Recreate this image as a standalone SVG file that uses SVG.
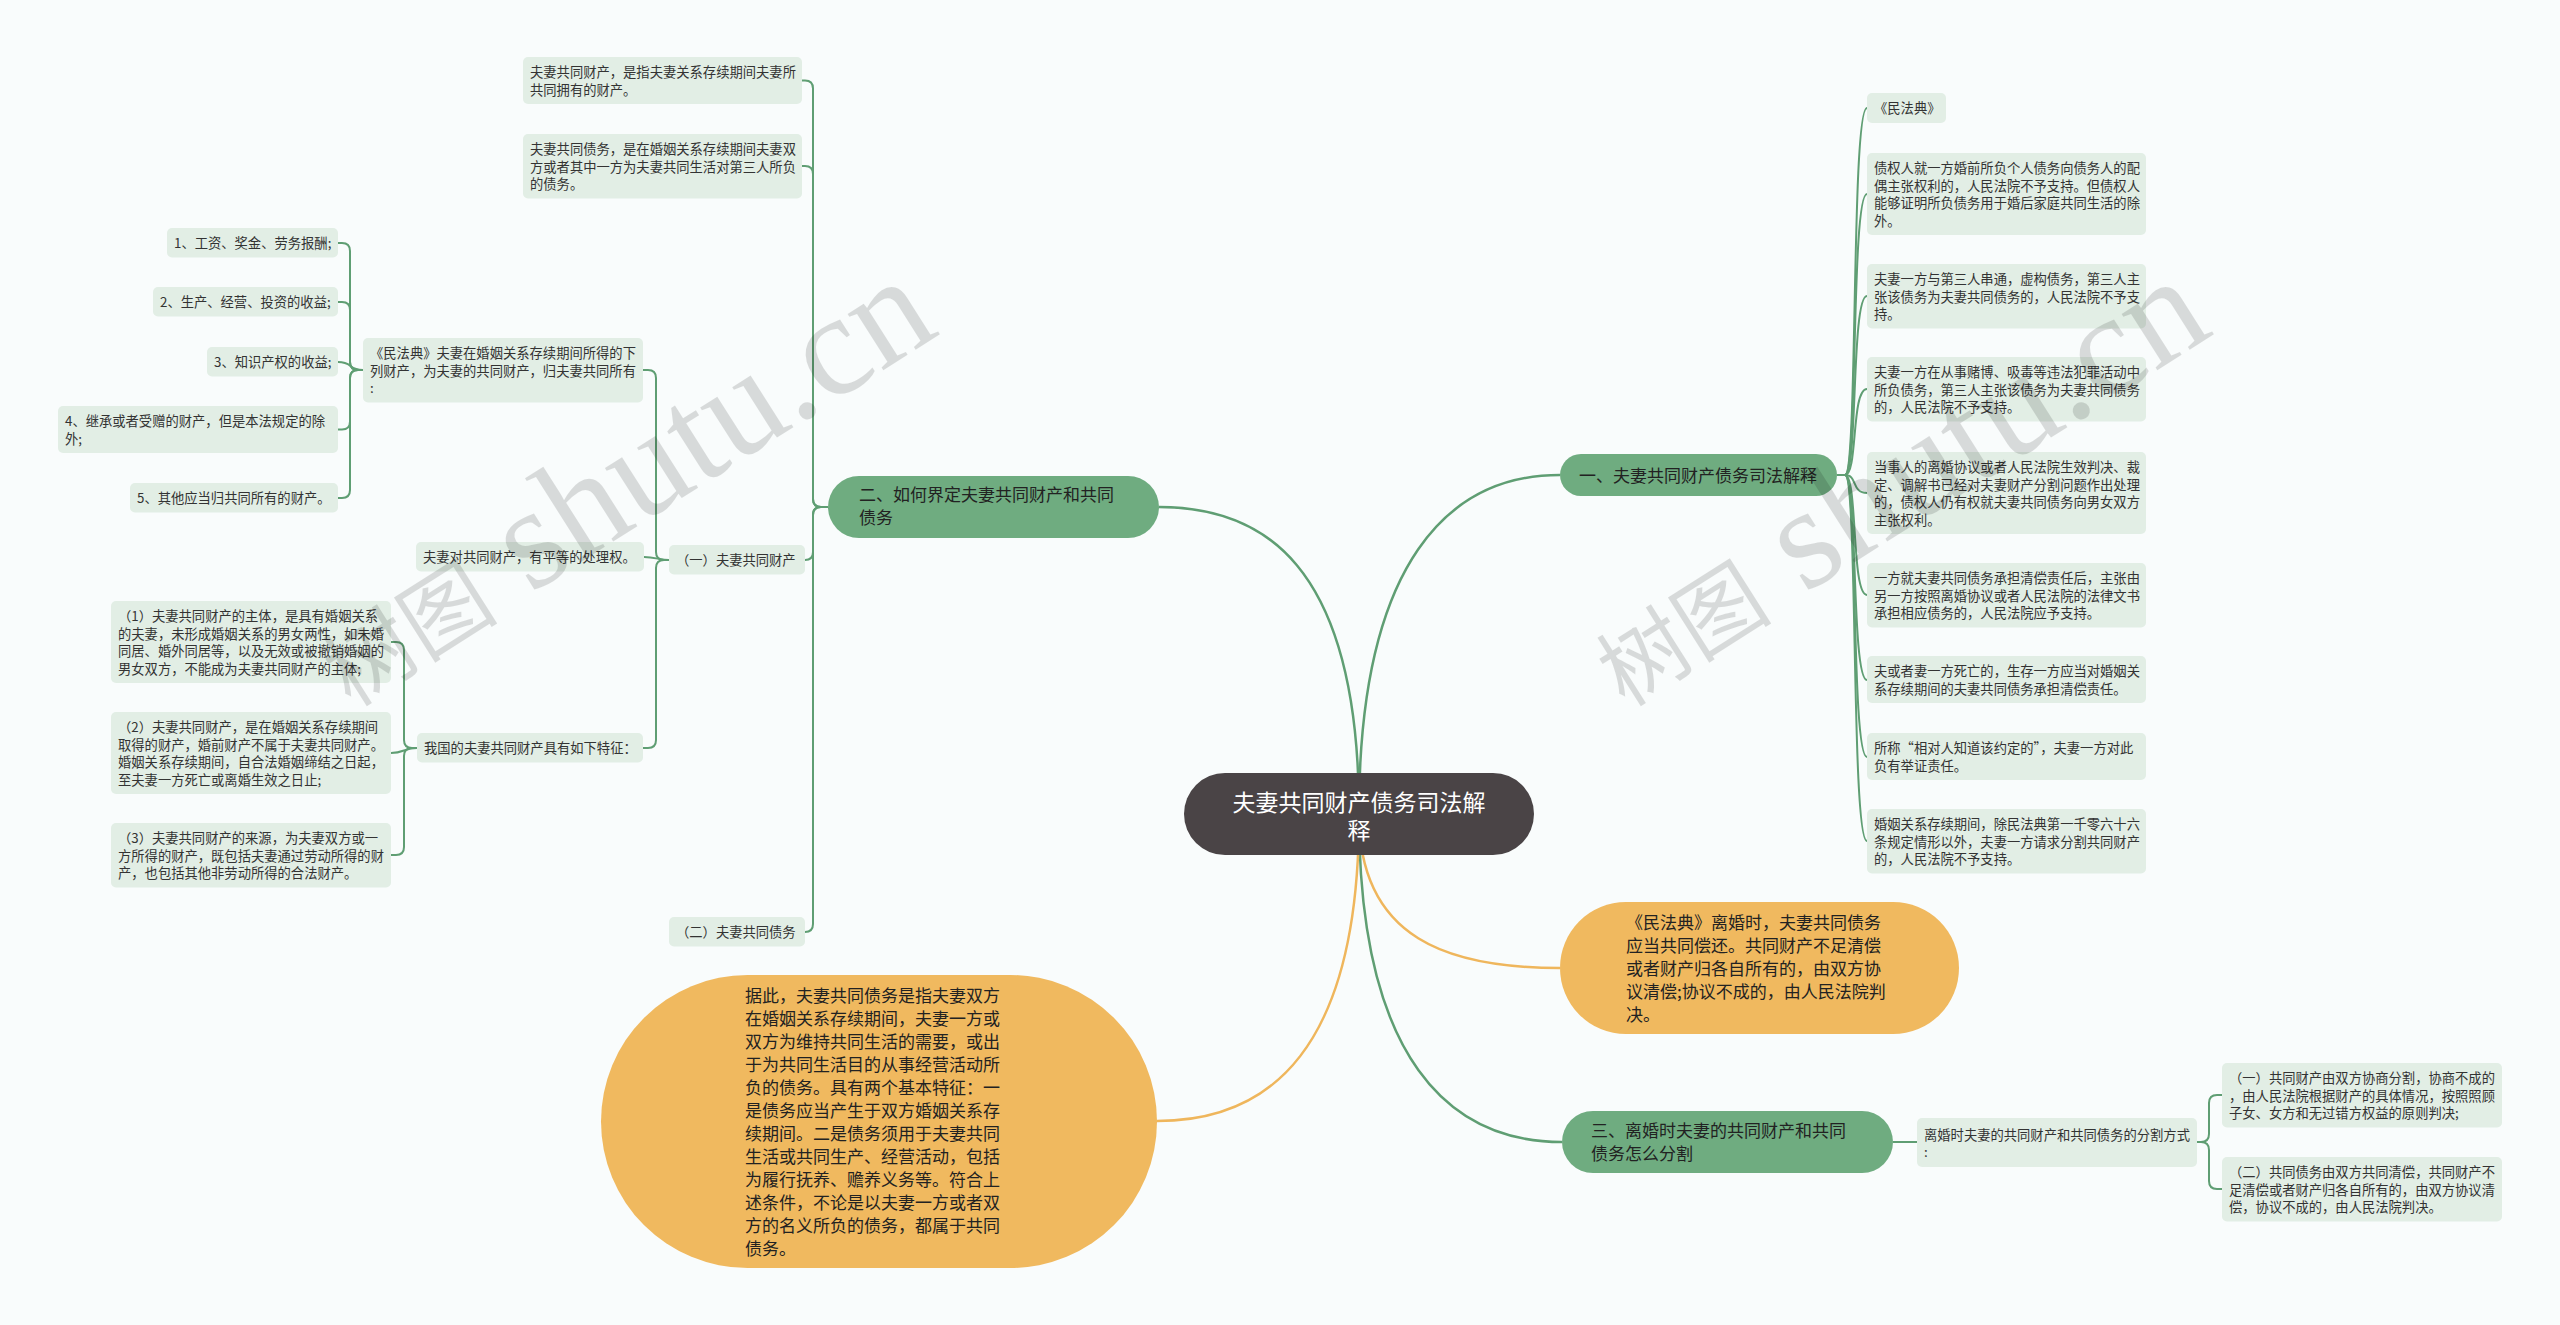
<svg xmlns="http://www.w3.org/2000/svg" width="2560" height="1325" viewBox="0 0 2560 1325">
<style>
.bg{fill:#f9fcfc}
.leaf{fill:#e2eee5}
.main{fill:#6fac80}
.root{fill:#4a4446}
.org{fill:#f0b95f}
.lt{font-family:"Noto Sans CJK SC","Microsoft YaHei",sans-serif;font-size:13.3px;fill:#333}
.mt{font-family:"Noto Sans CJK SC","Microsoft YaHei",sans-serif;font-size:17px;fill:#222}
.rt{font-family:"Noto Sans CJK SC","Microsoft YaHei",sans-serif;font-size:23px;fill:#fff}
.ln{fill:none;stroke:#5f9e73;stroke-width:2}
.lm{fill:none;stroke:#5f9e73;stroke-width:2.5}
.lo{fill:none;stroke:#efb65c;stroke-width:2.5}
.wm{fill:#000;opacity:0.13}
</style>
<rect class="bg" x="0" y="0" width="2560" height="1325"/>

<g id="connectors">
  <path class="lm" d="M1359,814 C1359,560 1450,475 1560,475"/>
  <path class="lm" d="M1359,814 C1359,560 1260,507 1159,507"/>
  <path class="lo" d="M1359,814 C1359,940 1450,968 1560,968"/>
  <path class="lm" d="M1359,814 C1359,1060 1450,1142 1562,1142"/>
  <path class="lo" d="M1359,814 C1359,1050 1270,1121 1157,1121"/>

  <path class="ln" d="M1837,475 L1845,475 C1858,475 1851,108 1867,108"/>
  <path class="ln" d="M1837,475 L1845,475 C1858,475 1851,194 1867,194"/>
  <path class="ln" d="M1837,475 L1845,475 C1858,475 1851,296 1867,296"/>
  <path class="ln" d="M1837,475 L1845,475 C1858,475 1851,389 1867,389"/>
  <path class="ln" d="M1837,475 L1845,475 C1858,475 1851,493 1867,493"/>
  <path class="ln" d="M1837,475 L1845,475 C1858,475 1851,595 1867,595"/>
  <path class="ln" d="M1837,475 L1845,475 C1858,475 1851,680 1867,680"/>
  <path class="ln" d="M1837,475 L1845,475 C1858,475 1851,757 1867,757"/>
  <path class="ln" d="M1837,475 L1845,475 C1858,475 1851,841 1867,841"/>

  <path class="ln" d="M828,507 L821,507 Q813,507 813,499 L813,88.5 Q813,80.5 805,80.5 L802,80.5"/>
  <path class="ln" d="M828,507 L821,507 Q813,507 813,499 L813,174 Q813,166 805,166 L802,166"/>
  <path class="ln" d="M828,507 L821,507 Q813,507 813,515 L813,552 Q813,560 805,560"/>
  <path class="ln" d="M828,507 L821,507 Q813,507 813,515 L813,924 Q813,932 805,932"/>

  <path class="ln" d="M669,560 L664,560 Q656,560 656,552 L656,378 Q656,370 648,370 L643,370"/>
  <path class="ln" d="M669,560 C660,560 655,557 644,557"/>
  <path class="ln" d="M669,560 L664,560 Q656,560 656,568 L656,740 Q656,748 648,748 L643,748"/>

  <path class="ln" d="M363,370 L358,370 Q350,370 350,362 L350,251 Q350,243 342,243 L338,243"/>
  <path class="ln" d="M363,370 L358,370 Q350,370 350,362 L350,310 Q350,302 342,302 L338,302"/>
  <path class="ln" d="M363,370 C348,370 353,362 338,362"/>
  <path class="ln" d="M363,370 L358,370 Q350,370 350,378 L350,421.5 Q350,429.5 342,429.5 L338,429.5"/>
  <path class="ln" d="M363,370 L358,370 Q350,370 350,378 L350,490 Q350,498 342,498 L338,498"/>

  <path class="ln" d="M417,748 L412,748 Q404,748 404,740 L404,650 Q404,642 396,642 L391,642"/>
  <path class="ln" d="M417,748 C404,748 404,753 391,753"/>
  <path class="ln" d="M417,748 L412,748 Q404,748 404,756 L404,847 Q404,855 396,855 L391,855"/>

  <path class="ln" d="M1893,1142 L1917,1142"/>
  <path class="ln" d="M2197,1142 L2201,1142 Q2209,1142 2209,1134 L2209,1103 Q2209,1095 2217,1095 L2222,1095"/>
  <path class="ln" d="M2197,1142 L2201,1142 Q2209,1142 2209,1150 L2209,1181 Q2209,1189 2217,1189 L2222,1189"/>
</g>

<g id="root">
  <rect class="root" x="1184" y="773" width="350" height="82" rx="41"/>
  <text class="rt" x="1359" y="810.7" text-anchor="middle">夫妻共同财产债务司法解</text>
  <text class="rt" x="1359" y="838.7" text-anchor="middle">释</text>
</g>

<g id="branch1">
  <rect class="main" x="1560" y="454" width="277" height="42" rx="21"/>
  <text class="mt" x="1698" y="481.5" text-anchor="middle">一、夫妻共同财产债务司法解释</text>
</g>
<g id="r1"><rect class="leaf" x="1867" y="93" width="79" height="30" rx="5"/><text class="lt" x="1874" y="113">《民法典》</text></g>
<g id="r2"><rect class="leaf" x="1867" y="153" width="279" height="82" rx="5"/>
  <text class="lt" x="1874" y="173">债权人就一方婚前所负个人债务向债务人的配</text>
  <text class="lt" x="1874" y="190.5">偶主张权利的，人民法院不予支持。但债权人</text>
  <text class="lt" x="1874" y="208">能够证明所负债务用于婚后家庭共同生活的除</text>
  <text class="lt" x="1874" y="225.5">外。</text></g>
<g id="r3"><rect class="leaf" x="1867" y="264" width="279" height="64.5" rx="5"/>
  <text class="lt" x="1874" y="284">夫妻一方与第三人串通，虚构债务，第三人主</text>
  <text class="lt" x="1874" y="301.5">张该债务为夫妻共同债务的，人民法院不予支</text>
  <text class="lt" x="1874" y="319">持。</text></g>
<g id="r4"><rect class="leaf" x="1867" y="357" width="279" height="64.5" rx="5"/>
  <text class="lt" x="1874" y="377">夫妻一方在从事赌博、吸毒等违法犯罪活动中</text>
  <text class="lt" x="1874" y="394.5">所负债务，第三人主张该债务为夫妻共同债务</text>
  <text class="lt" x="1874" y="412">的，人民法院不予支持。</text></g>
<g id="r5"><rect class="leaf" x="1867" y="452" width="279" height="82" rx="5"/>
  <text class="lt" x="1874" y="472">当事人的离婚协议或者人民法院生效判决、裁</text>
  <text class="lt" x="1874" y="489.5">定、调解书已经对夫妻财产分割问题作出处理</text>
  <text class="lt" x="1874" y="507">的，债权人仍有权就夫妻共同债务向男女双方</text>
  <text class="lt" x="1874" y="524.5">主张权利。</text></g>
<g id="r6"><rect class="leaf" x="1867" y="563" width="279" height="64.5" rx="5"/>
  <text class="lt" x="1874" y="583">一方就夫妻共同债务承担清偿责任后，主张由</text>
  <text class="lt" x="1874" y="600.5">另一方按照离婚协议或者人民法院的法律文书</text>
  <text class="lt" x="1874" y="618">承担相应债务的，人民法院应予支持。</text></g>
<g id="r7"><rect class="leaf" x="1867" y="656" width="279" height="47" rx="5"/>
  <text class="lt" x="1874" y="676">夫或者妻一方死亡的，生存一方应当对婚姻关</text>
  <text class="lt" x="1874" y="693.5">系存续期间的夫妻共同债务承担清偿责任。</text></g>
<g id="r8"><rect class="leaf" x="1867" y="733" width="279" height="47" rx="5"/>
  <text class="lt" x="1874" y="753">所称“相对人知道该约定的”，夫妻一方对此</text>
  <text class="lt" x="1874" y="770.5">负有举证责任。</text></g>
<g id="r9"><rect class="leaf" x="1867" y="809" width="279" height="64.5" rx="5"/>
  <text class="lt" x="1874" y="829">婚姻关系存续期间，除民法典第一千零六十六</text>
  <text class="lt" x="1874" y="846.5">条规定情形以外，夫妻一方请求分割共同财产</text>
  <text class="lt" x="1874" y="864">的，人民法院不予支持。</text></g>

<g id="branch2">
  <rect class="main" x="828" y="476" width="331" height="62" rx="31"/>
  <text class="mt" x="859" y="501">二、如何界定夫妻共同财产和共同</text>
  <text class="mt" x="859" y="524">债务</text>
</g>
<g id="la"><rect class="leaf" x="523" y="57" width="279" height="47" rx="5"/>
  <text class="lt" x="530" y="77">夫妻共同财产，是指夫妻关系存续期间夫妻所</text>
  <text class="lt" x="530" y="94.5">共同拥有的财产。</text></g>
<g id="lb"><rect class="leaf" x="523" y="134" width="279" height="64.5" rx="5"/>
  <text class="lt" x="530" y="154">夫妻共同债务，是在婚姻关系存续期间夫妻双</text>
  <text class="lt" x="530" y="171.5">方或者其中一方为夫妻共同生活对第三人所负</text>
  <text class="lt" x="530" y="189">的债务。</text></g>
<g id="l1"><rect class="leaf" x="669" y="545" width="136" height="29.5" rx="5"/>
  <text class="lt" x="676" y="565">（一）夫妻共同财产</text></g>
<g id="l2"><rect class="leaf" x="669" y="917" width="136" height="29.5" rx="5"/>
  <text class="lt" x="676" y="937">（二）夫妻共同债务</text></g>
<g id="lm"><rect class="leaf" x="363" y="338" width="280" height="64.5" rx="5"/>
  <text class="lt" x="370" y="358">《民法典》夫妻在婚姻关系存续期间所得的下</text>
  <text class="lt" x="370" y="375.5">列财产，为夫妻的共同财产，归夫妻共同所有</text>
  <text class="lt" x="370" y="393">:</text></g>
<g id="li1"><rect class="leaf" x="167" y="228" width="171" height="29.5" rx="5"/>
  <text class="lt" x="174" y="248">1、工资、奖金、劳务报酬;</text></g>
<g id="li2"><rect class="leaf" x="153" y="287" width="185" height="29.5" rx="5"/>
  <text class="lt" x="160" y="307">2、生产、经营、投资的收益;</text></g>
<g id="li3"><rect class="leaf" x="207" y="347" width="131" height="29.5" rx="5"/>
  <text class="lt" x="214" y="367">3、知识产权的收益;</text></g>
<g id="li4"><rect class="leaf" x="58" y="406" width="280" height="47" rx="5"/>
  <text class="lt" x="65" y="426">4、继承或者受赠的财产，但是本法规定的除</text>
  <text class="lt" x="65" y="443.5">外;</text></g>
<g id="li5"><rect class="leaf" x="130" y="483" width="208" height="29.5" rx="5"/>
  <text class="lt" x="137" y="503">5、其他应当归共同所有的财产。</text></g>
<g id="lp"><rect class="leaf" x="416" y="542" width="228" height="29.5" rx="5"/>
  <text class="lt" x="423" y="562">夫妻对共同财产，有平等的处理权。</text></g>
<g id="lq"><rect class="leaf" x="417" y="733" width="226" height="29.5" rx="5"/>
  <text class="lt" x="424" y="753">我国的夫妻共同财产具有如下特征：</text></g>
<g id="lq1"><rect class="leaf" x="111" y="601" width="280" height="82" rx="5"/>
  <text class="lt" x="118" y="621">（1）夫妻共同财产的主体，是具有婚姻关系</text>
  <text class="lt" x="118" y="638.5">的夫妻，未形成婚姻关系的男女两性，如未婚</text>
  <text class="lt" x="118" y="656">同居、婚外同居等，以及无效或被撤销婚姻的</text>
  <text class="lt" x="118" y="673.5">男女双方，不能成为夫妻共同财产的主体;</text></g>
<g id="lq2"><rect class="leaf" x="111" y="712" width="280" height="82" rx="5"/>
  <text class="lt" x="118" y="732">（2）夫妻共同财产，是在婚姻关系存续期间</text>
  <text class="lt" x="118" y="749.5">取得的财产，婚前财产不属于夫妻共同财产。</text>
  <text class="lt" x="118" y="767">婚姻关系存续期间，自合法婚姻缔结之日起，</text>
  <text class="lt" x="118" y="784.5">至夫妻一方死亡或离婚生效之日止;</text></g>
<g id="lq3"><rect class="leaf" x="111" y="823" width="280" height="64.5" rx="5"/>
  <text class="lt" x="118" y="843">（3）夫妻共同财产的来源，为夫妻双方或一</text>
  <text class="lt" x="118" y="860.5">方所得的财产，既包括夫妻通过劳动所得的财</text>
  <text class="lt" x="118" y="878">产，也包括其他非劳动所得的合法财产。</text></g>

<g id="orange-right">
  <rect class="org" x="1560" y="902" width="399" height="132" rx="66"/>
  <text class="mt" x="1626" y="928.5">《民法典》离婚时，夫妻共同债务</text>
  <text class="mt" x="1626" y="951.5">应当共同偿还。共同财产不足清偿</text>
  <text class="mt" x="1626" y="974.5">或者财产归各自所有的，由双方协</text>
  <text class="mt" x="1626" y="997.5">议清偿;协议不成的，由人民法院判</text>
  <text class="mt" x="1626" y="1020.5">决。</text>
</g>

<g id="orange-left">
  <rect class="org" x="601" y="975" width="556" height="293" rx="146.5"/>
  <text class="mt" x="745" y="1001.5">据此，夫妻共同债务是指夫妻双方</text>
  <text class="mt" x="745" y="1024.5">在婚姻关系存续期间，夫妻一方或</text>
  <text class="mt" x="745" y="1047.5">双方为维持共同生活的需要，或出</text>
  <text class="mt" x="745" y="1070.5">于为共同生活目的从事经营活动所</text>
  <text class="mt" x="745" y="1093.5">负的债务。具有两个基本特征：一</text>
  <text class="mt" x="745" y="1116.5">是债务应当产生于双方婚姻关系存</text>
  <text class="mt" x="745" y="1139.5">续期间。二是债务须用于夫妻共同</text>
  <text class="mt" x="745" y="1162.5">生活或共同生产、经营活动，包括</text>
  <text class="mt" x="745" y="1185.5">为履行抚养、赡养义务等。符合上</text>
  <text class="mt" x="745" y="1208.5">述条件，不论是以夫妻一方或者双</text>
  <text class="mt" x="745" y="1231.5">方的名义所负的债务，都属于共同</text>
  <text class="mt" x="745" y="1254.5">债务。</text>
</g>

<g id="branch3">
  <rect class="main" x="1562" y="1111" width="331" height="62" rx="31"/>
  <text class="mt" x="1591" y="1137">三、离婚时夫妻的共同财产和共同</text>
  <text class="mt" x="1591" y="1160">债务怎么分割</text>
</g>
<g id="b3c"><rect class="leaf" x="1917" y="1118" width="280" height="49" rx="5"/>
  <text class="lt" x="1924" y="1140">离婚时夫妻的共同财产和共同债务的分割方式</text>
  <text class="lt" x="1924" y="1157">:</text></g>
<g id="b3c1"><rect class="leaf" x="2222" y="1063" width="280" height="64.5" rx="5"/>
  <text class="lt" x="2229" y="1083">（一）共同财产由双方协商分割，协商不成的</text>
  <text class="lt" x="2229" y="1100.5">，由人民法院根据财产的具体情况，按照照顾</text>
  <text class="lt" x="2229" y="1118">子女、女方和无过错方权益的原则判决;</text></g>
<g id="b3c2"><rect class="leaf" x="2222" y="1157" width="280" height="64.5" rx="5"/>
  <text class="lt" x="2229" y="1177">（二）共同债务由双方共同清偿，共同财产不</text>
  <text class="lt" x="2229" y="1194.5">足清偿或者财产归各自所有的，由双方协议清</text>
  <text class="lt" x="2229" y="1212">偿，协议不成的，由人民法院判决。</text></g>

<g id="watermarks">
  <text class="wm" transform="translate(351,708) rotate(-32.4)"><tspan font-family="Noto Sans CJK SC, sans-serif" font-size="88">树图</tspan><tspan font-family="Liberation Serif, serif" font-size="145"> shutu.cn</tspan></text>
  <text class="wm" transform="translate(1625,708) rotate(-32.4)"><tspan font-family="Noto Sans CJK SC, sans-serif" font-size="88">树图</tspan><tspan font-family="Liberation Serif, serif" font-size="145"> shutu.cn</tspan></text>
</g>
</svg>
